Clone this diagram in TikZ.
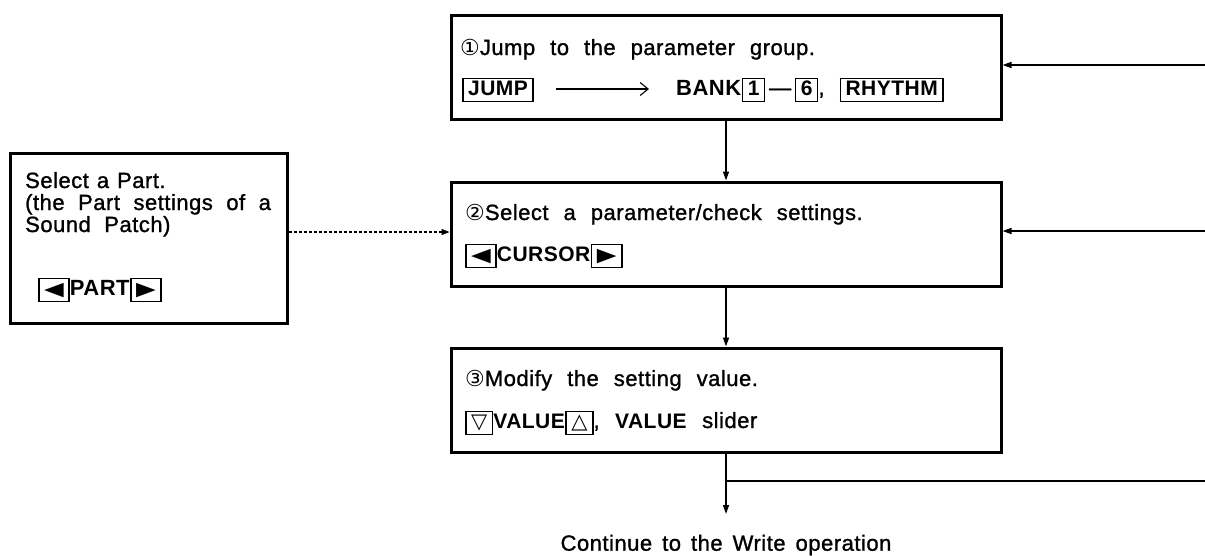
\documentclass[tikz,border=0pt]{standalone}
\usepackage{fontspec}
\setmainfont{Liberation Sans}[LetterSpace=2.3, UprightFeatures={FakeBold=1.2}]
\newfontfamily\sym{DejaVu Sans}
\usetikzlibrary{arrows.meta}
\setlength{\fboxrule}{1.5pt}
\setlength{\fboxsep}{1pt}
\newcommand\kb[1]{\fbox{\rule[-4.5pt]{0pt}{19.5pt}\hspace{3.5pt}\fontsize{21}{24}\selectfont\bfseries #1\hspace{3.5pt}}}
\newcommand\ftri[1]{\scalebox{1.35}[1]{\fontsize{19}{20}\selectfont\sym #1}}
\newcommand\otri[1]{{\fontsize{21}{22}\selectfont\sym #1}}
\newcommand\ftxt{\fontsize{22}{24}\selectfont\spaceskip=15pt plus 3pt\relax}
\begin{document}
\begin{tikzpicture}[x=1pt,y=-1pt,
  box/.style={draw, line width=3pt, inner sep=0pt, minimum width=550pt, minimum height=104pt},
  txt/.style={inner sep=0pt, anchor=base west, font=\ftxt},
  arr/.style={line width=1.5pt, -{Triangle[length=9pt,width=6pt]}},
  plain/.style={line width=1.5pt},
  darr/.style={line width=1.4pt, dash pattern=on 3pt off 2pt, -{Triangle[length=8pt,width=6pt]}},
  glyph/.style={line width=1.1pt, -{Straight Barb[length=8pt,width=13pt]}}]
\useasboundingbox (0,0) rectangle (1205,555);
% boxes
\node[box] (b1) at (726,67) {};
\node[box] (b2) at (726,234) {};
\node[box] (b3) at (726,400) {};
\node[draw, line width=3pt, inner sep=0pt, minimum width=277pt, minimum height=170pt] (lb) at (148.5,238) {};
% box 1 text
\node[txt] (t11) at (460,55) {{\sym ①}Jump to the parameter group.};
\node[txt] (t12a) at (462,95) {\kb{JUMP}};
\coordinate (ja) at (556,89);
\coordinate (jb) at (649,89);
\draw[glyph] (ja) -- (jb);
\node[txt] (t12c) at (676,95) {\textbf{BANK}\kb{1}\,—\,\kb{6}, \kb{RHYTHM}};
% box 2 text
\node[txt] (t21) at (465,220) {{\sym ②}Select a parameter/check settings.};
\node[txt] (t22) at (465,261) {\kb{\ftri{◀}}\textbf{\fontsize{21}{24}\selectfont CURSOR}\kb{\ftri{▶}}};
% box 3 text
\node[txt] (t31) at (465,386) {{\sym ③}Modify the setting value.};
\node[txt] (t32) at (465,428) {\kb{\otri{▽}}\textbf{\fontsize{21}{24}\selectfont VALUE}\kb{\otri{△}}, \textbf{\fontsize{21}{24}\selectfont VALUE} slider};
% left box text
\node[txt] (l1) at (25,188) {\spaceskip=8pt\relax Select a Part.};
\node[txt] (l2) at (25,210) {\spaceskip=13.5pt\relax (the Part settings of a};
\node[txt] (l3) at (25,232) {\spaceskip=13.5pt\relax Sound Patch)};
\node[txt] (l4) at (38,295) {\kb{\ftri{◀}}\textbf{\fontsize{22}{24}\selectfont PART}\kb{\ftri{▶}}};
% bottom text
\node[font=\ftxt, inner sep=0pt] (cont) at (726,545) {\spaceskip=10pt\relax Continue to the Write operation};
% connectors
\draw[arr] (b1.south) -- (b2.north);
\draw[arr] (b2.south) -- (b3.north);
\coordinate (end) at (726,514);
\draw[arr] (b3.south) -- (end);
\coordinate (j3) at (726,481);
\coordinate (r3) at (1205,481);
\draw[plain] (j3) -- (r3);
\coordinate (r1) at (1205,65);
\draw[arr] (r1) -- (b1.east |- r1);
\coordinate (r2) at (1205,231);
\draw[arr] (r2) -- (b2.east |- r2);
\coordinate (d) at (0,232);
\draw[darr] (lb.east |- d) -- (b2.west |- d);
\end{tikzpicture}
\end{document}
